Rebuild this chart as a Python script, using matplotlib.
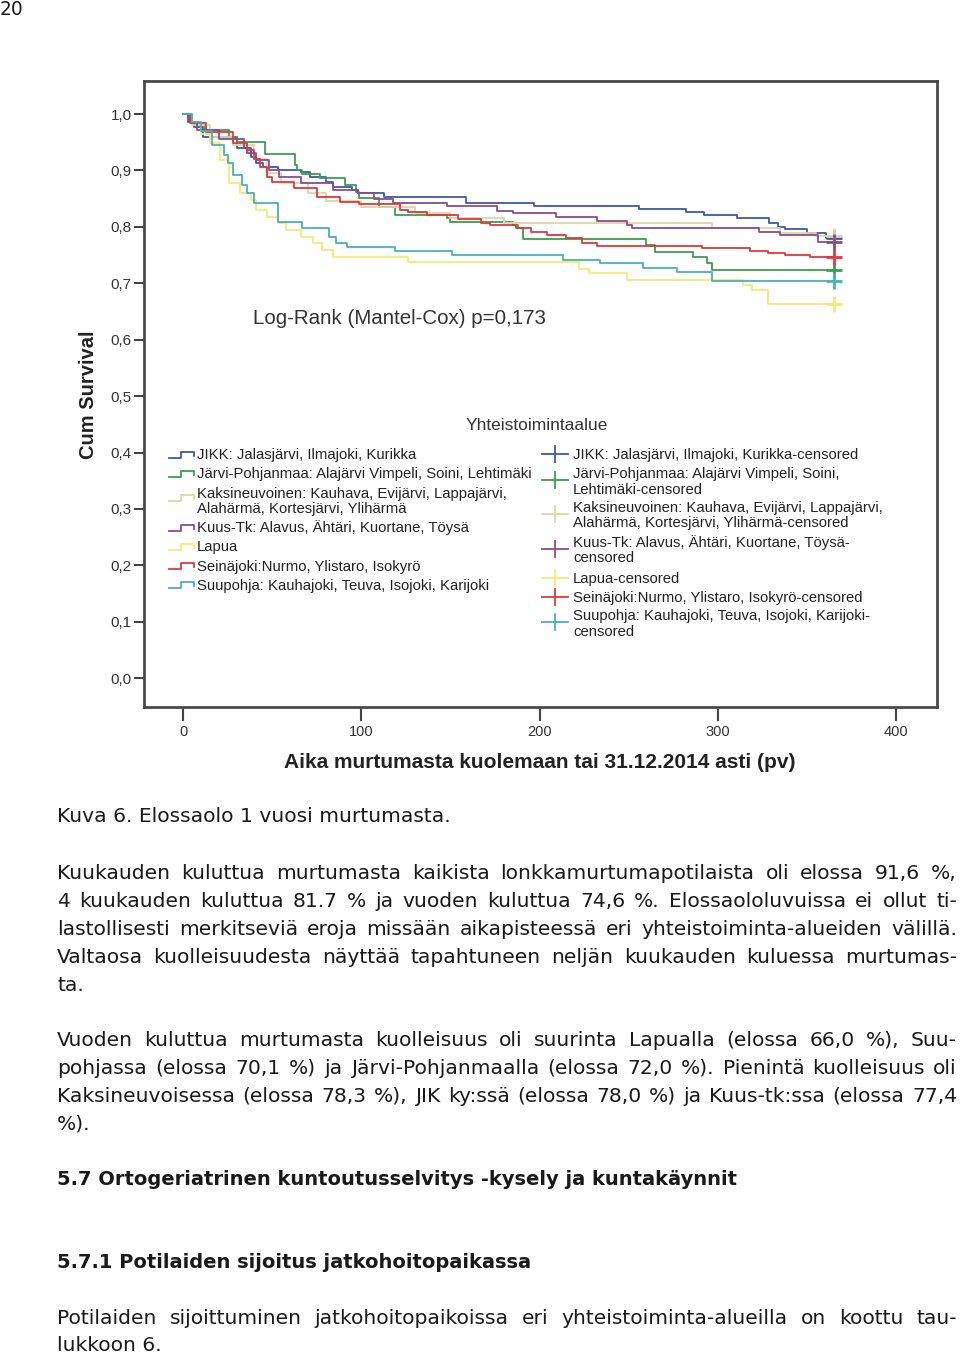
import numpy as np
import matplotlib.pyplot as plt

# Kaplan-Meier data: day of step, survival after step
jikk_t = [0, 3, 6, 11, 30, 38, 41, 45, 53, 66, 71, 80, 84, 95, 98, 113, 159, 197, 256, 282, 292, 311, 329, 334, 338, 350, 361]
jikk_s = [1.0, 0.985, 0.977, 0.959, 0.940, 0.924, 0.913, 0.906, 0.901, 0.897, 0.888, 0.880, 0.871, 0.865, 0.860, 0.853, 0.843, 0.837, 0.832, 0.826, 0.821, 0.816, 0.807, 0.800, 0.797, 0.789, 0.780]

jarvi_t = [0, 4, 8, 12, 26, 30, 46, 63, 64, 67, 77, 91, 97, 99, 110, 119, 148, 150, 185, 188, 191, 260, 265, 286, 294, 297]
jarvi_s = [1.0, 0.985, 0.978, 0.972, 0.960, 0.950, 0.929, 0.910, 0.901, 0.893, 0.887, 0.874, 0.862, 0.851, 0.835, 0.821, 0.816, 0.809, 0.803, 0.798, 0.778, 0.768, 0.755, 0.746, 0.736, 0.723]

kaksi_t = [0, 5, 15, 28, 40, 47, 55, 70, 80, 100, 130, 150, 180, 297, 335, 355]
kaksi_s = [1.0, 0.98, 0.96, 0.945, 0.92, 0.895, 0.878, 0.86, 0.845, 0.836, 0.825, 0.815, 0.807, 0.798, 0.789, 0.783]

kuus_t = [0, 4, 8, 20, 34, 36, 41, 48, 54, 66, 84, 98, 107, 118, 148, 176, 185, 209, 232, 249, 252, 323, 335, 356]
kuus_s = [1.0, 0.985, 0.972, 0.955, 0.940, 0.931, 0.918, 0.900, 0.888, 0.878, 0.865, 0.860, 0.849, 0.843, 0.837, 0.828, 0.824, 0.817, 0.810, 0.803, 0.798, 0.791, 0.785, 0.774]

lapua_t = [0, 5, 10, 15, 21, 26, 32, 38, 41, 47, 53, 58, 66, 73, 78, 84, 126, 222, 228, 249, 314, 319, 328]
lapua_s = [1.0, 0.985, 0.965, 0.949, 0.918, 0.878, 0.860, 0.848, 0.830, 0.818, 0.807, 0.794, 0.782, 0.771, 0.759, 0.746, 0.738, 0.725, 0.718, 0.706, 0.697, 0.688, 0.663]

seina_t = [0, 4, 13, 28, 36, 40, 43, 47, 50, 62, 75, 88, 99, 122, 126, 137, 154, 167, 172, 187, 195, 204, 215, 224, 232, 291, 318, 328, 338, 352]
seina_s = [1.0, 0.984, 0.968, 0.949, 0.936, 0.920, 0.906, 0.888, 0.879, 0.869, 0.853, 0.844, 0.840, 0.830, 0.826, 0.821, 0.814, 0.807, 0.803, 0.798, 0.791, 0.785, 0.780, 0.771, 0.766, 0.762, 0.757, 0.754, 0.750, 0.746]

suup_t = [0, 5, 10, 16, 23, 25, 28, 33, 36, 40, 53, 67, 82, 86, 92, 119, 151, 213, 234, 258, 277, 297]
suup_s = [1.0, 0.985, 0.970, 0.945, 0.927, 0.913, 0.892, 0.874, 0.860, 0.842, 0.809, 0.798, 0.782, 0.771, 0.764, 0.757, 0.750, 0.741, 0.736, 0.727, 0.720, 0.704]

end_day = 365

x_ticks = [0, 100, 200, 300, 400]
y_ticks = [0.0, 0.1, 0.2, 0.3, 0.4, 0.5, 0.6, 0.7, 0.8, 0.9, 1.0]
y_tick_labels = ['0,0', '0,1', '0,2', '0,3', '0,4', '0,5', '0,6', '0,7', '0,8', '0,9', '1,0']

left_labels = ['JIKK: Jalasjärvi, Ilmajoki, Kurikka',
               'Järvi-Pohjanmaa: Alajärvi Vimpeli, Soini, Lehtimäki',
               'Kaksineuvoinen: Kauhava, Evijärvi, Lappajärvi,\nAlahärmä, Kortesjärvi, Ylihärmä',
               'Kuus-Tk: Alavus, Ähtäri, Kuortane, Töysä',
               'Lapua',
               'Seinäjoki:Nurmo, Ylistaro, Isokyrö',
               'Suupohja: Kauhajoki, Teuva, Isojoki, Karijoki']
right_labels = ['JIKK: Jalasjärvi, Ilmajoki, Kurikka-censored',
                'Järvi-Pohjanmaa: Alajärvi Vimpeli, Soini,\nLehtimäki-censored',
                'Kaksineuvoinen: Kauhava, Evijärvi, Lappajärvi,\nAlahärmä, Kortesjärvi, Ylihärmä-censored',
                'Kuus-Tk: Alavus, Ähtäri, Kuortane, Töysä-\ncensored',
                'Lapua-censored',
                'Seinäjoki:Nurmo, Ylistaro, Isokyrö-censored',
                'Suupohja: Kauhajoki, Teuva, Isojoki, Karijoki-\ncensored']

para1 = ['Kuukauden kuluttua murtumasta kaikista lonkkamurtumapotilaista oli elossa 91,6 %,',
         '4 kuukauden kuluttua 81.7 % ja vuoden kuluttua 74,6 %. Elossaololuvuissa ei ollut ti-',
         'lastollisesti merkitseviä eroja missään aikapisteessä eri yhteistoiminta-alueiden välillä.',
         'Valtaosa kuolleisuudesta näyttää tapahtuneen neljän kuukauden kuluessa murtumas-',
         'ta.']
para2 = ['Vuoden kuluttua murtumasta kuolleisuus oli suurinta Lapualla (elossa 66,0 %), Suu-',
         'pohjassa (elossa 70,1 %) ja Järvi-Pohjanmaalla (elossa 72,0 %). Pienintä kuolleisuus oli',
         'Kaksineuvoisessa (elossa 78,3 %), JIK ky:ssä (elossa 78,0 %) ja Kuus-tk:ssa (elossa 77,4',
         '%).']
para3 = ['Potilaiden sijoittuminen jatkohoitopaikoissa eri yhteistoiminta-alueilla on koottu tau-',
         'lukkoon 6.']

series = [(jikk_t, jikk_s), (jarvi_t, jarvi_s), (kaksi_t, kaksi_s), (kuus_t, kuus_s),
          (lapua_t, lapua_s), (seina_t, seina_s), (suup_t, suup_s)]
colors = ['#3E58AC', '#3A9E50', '#DCD5A6', '#8A4C8F', '#F0EA78', '#E0383E', '#48B2B6']

narrow = ['Liberation Sans Narrow', 'Liberation Sans', 'DejaVu Sans']
arial = ['Liberation Sans', 'DejaVu Sans']
body = ['DejaVu Sans']

fig = plt.figure(figsize=(9.6, 13.54), dpi=100)
fig.patch.set_facecolor('white')

ax = fig.add_axes([144/960, 1 - 707/1354, (937 - 144)/960, (707 - 81)/1354])
for (t, s), c in zip(series, colors):
    ax.step(t + [end_day], s + [s[-1]], where='post', color=c, lw=1.3, zorder=3)
    ax.plot(end_day, s[-1], marker='+', ms=12, mew=2, color=c, zorder=4)

ax.set_xlim(-21.9, 423)
ax.set_ylim(-0.051, 1.0585)
ax.set_xticks(x_ticks)
ax.set_xticklabels([str(v) for v in x_ticks], family=narrow, fontsize=10.5, color='#333333')
ax.set_yticks(y_ticks)
ax.set_yticklabels(y_tick_labels, family=arial, fontsize=11, color='#333333')
ax.tick_params(axis='x', direction='out', length=10, width=1.5, color='#444444', pad=3)
ax.tick_params(axis='y', direction='out', length=7, width=1.5, color='#444444', pad=2)
for sp in ax.spines.values():
    sp.set_color('#4a4a4a')
    sp.set_linewidth(2)

# page overlay in pixel coordinates
pg = fig.add_axes([0, 0, 1, 1], zorder=5)
pg.set_xlim(0, 960)
pg.set_ylim(1354, 0)
pg.axis('off')

pg.text(88, 395, 'Cum Survival', rotation=90, ha='center', va='center',
        family=arial, fontweight='bold', fontsize=14.5, color='#222222')
pg.text(540, 762, 'Aika murtumasta kuolemaan tai 31.12.2014 asti (pv)', ha='center', va='center',
        family=narrow, fontweight='bold', fontsize=15, color='#222222')
pg.text(253, 319, 'Log-Rank (Mantel-Cox) p=0,173', ha='left', va='center',
        family=arial, fontsize=14.8, color='#333333')
pg.text(466, 425, 'Yhteistoimintaalue', ha='left', va='center',
        family=arial, fontsize=12.5, color='#333333')

left_y = [454, 473, 493, 527, 546, 566, 585]
left_hy = [455, 474, 498, 528, 547, 566, 585]
right_y = [454, 473, 507, 542, 578, 597, 615]
right_hy = [454, 480, 514, 549, 578, 597, 622]
LINE = 15.5


def put_label(x, y, lab):
    for k, part in enumerate(lab.split('\n')):
        pg.text(x, y + 5 + LINE * k, part, ha='left', va='baseline', family=arial,
                fontsize=10.7, color='#222222')


for lab, y, hy, c in zip(left_labels, left_y, left_hy, colors):
    put_label(197, y, lab)
    pg.plot([169, 181, 181, 194, 194], [hy + 3, hy + 3, hy - 3, hy - 3, hy + 1], color=c, lw=1.3)

for lab, y, hy, c in zip(right_labels, right_y, right_hy, colors):
    put_label(573, y, lab)
    pg.plot([542, 568], [hy, hy], color=c, lw=1.3)
    pg.plot([555, 555], [hy - 8, hy + 8], color=c, lw=1.3)

# body text of the page
X0, X1 = 57, 957
renderer = fig.canvas.get_renderer()


def put_line(y, text, justify=False, bold=False, size=14.6):
    kw = dict(va='baseline', ha='left', family=body, fontsize=size,
              fontweight='bold' if bold else 'normal', color='#1a1a1a')
    if not justify:
        pg.text(X0, y, text, **kw)
        return
    words = text.split(' ')
    arts = [pg.text(0, y, w, **kw) for w in words]
    widths = [a.get_window_extent(renderer).width for a in arts]
    gap = (X1 - X0 - sum(widths)) / (len(words) - 1)
    x = X0
    for a, w in zip(arts, widths):
        a.set_x(x)
        x += w + gap


pg.text(0, 15, '20', va='baseline', ha='left', family=body, fontsize=13.4, color='#1a1a1a')
put_line(822, 'Kuva 6. Elossaolo 1 vuosi murtumasta.')

for i, line in enumerate(para1):
    put_line(879 + 28 * i, line, justify=i < len(para1) - 1)
for i, line in enumerate(para2):
    put_line(1046 + 28 * i, line, justify=i < len(para2) - 1)

put_line(1185, '5.7 Ortogeriatrinen kuntoutusselvitys -kysely ja kuntakäynnit', bold=True, size=14)
put_line(1268, '5.7.1 Potilaiden sijoitus jatkohoitopaikassa', bold=True, size=14)

for i, line in enumerate(para3):
    put_line(1324 + 27 * i, line, justify=i < len(para3) - 1)

fig.savefig('out.png', dpi=100)
